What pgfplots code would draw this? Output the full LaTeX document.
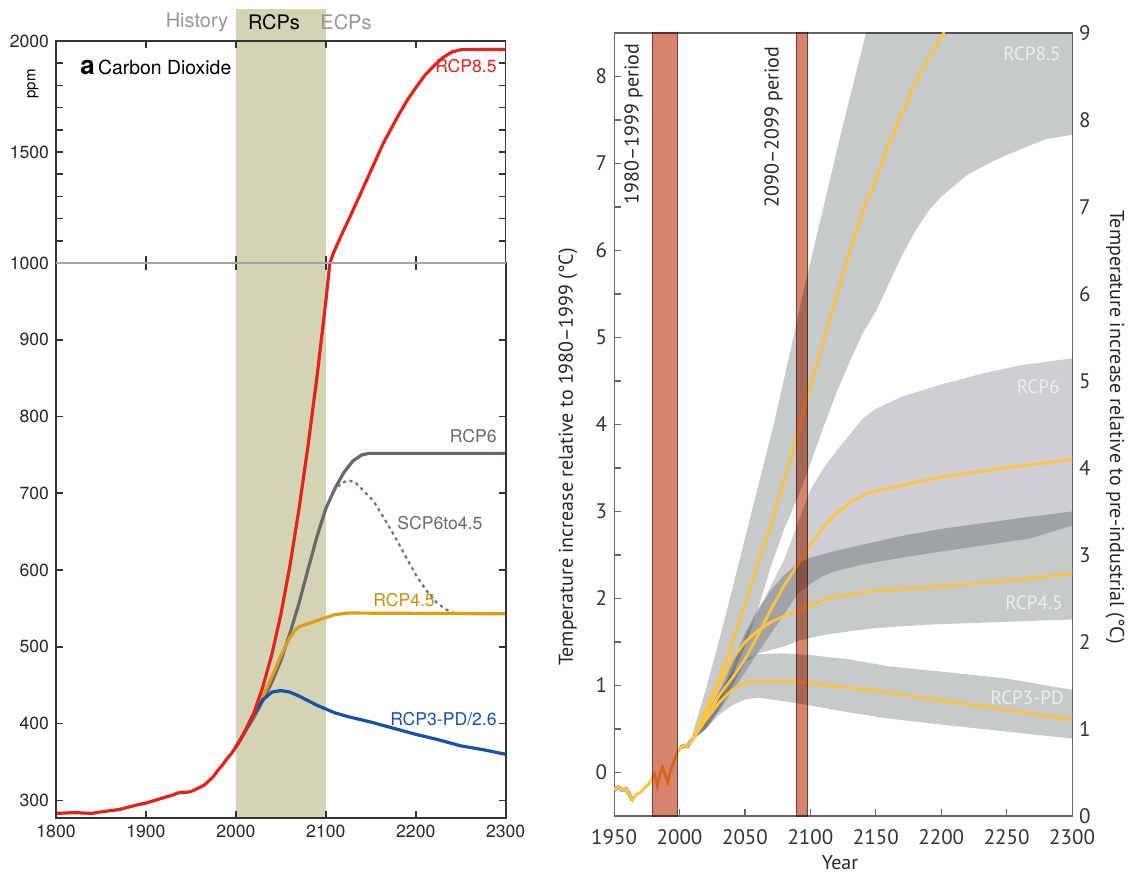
\documentclass[border=0pt]{standalone}
\usepackage{fontspec}
\usepackage{pgfplots}
\pgfplotsset{compat=1.18}
\usepgfplotslibrary{fillbetween}
\newfontfamily\lfont{TeX Gyre Heros}
\newfontfamily\rfont{PT Sans}
\definecolor{bandc}{RGB}{212,212,180}
\definecolor{co2red}{RGB}{226,35,30}
\definecolor{rcpsixgray}{RGB}{110,102,106}
\definecolor{rcpfourorange}{RGB}{222,158,20}
\definecolor{rcptwoblue}{RGB}{22,82,165}
\definecolor{hdrgray}{RGB}{150,150,150}
\definecolor{tband}{RGB}{198,202,202}
\definecolor{sixband}{RGB}{206,206,211}
\definecolor{tline}{RGB}{252,196,64}
\definecolor{barred}{RGB}{214,132,108}
\definecolor{lbltxt}{RGB}{238,240,240}
\begin{document}
\begin{tikzpicture}
% ---------------- LEFT PANEL: bottom part ----------------
\begin{axis}[
  at={(28pt,28.5pt)}, anchor=south west, scale only axis,
  width=224.85pt, height=277.5pt,
  xmin=1800, xmax=2300, ymin=277, ymax=1000,
  axis on top,
  xtick={1800,1900,...,2300}, ytick={300,400,...,900},
  tick align=inside, xtick pos=both, ytick pos=both,
  xticklabel pos=left, yticklabel pos=left,
  major tick length=3.5pt,
  axis line style={draw=black!80, line width=0.8pt},
  major tick style={draw=black!80, line width=0.8pt},
  tick label style={font=\lfont\fontsize{8.8}{10}\selectfont, text=black!85},
  /pgf/number format/assume math mode=true,
  /pgf/number format/1000 sep={},
]
\addplot[fill=bandc, draw=none] coordinates {(2000,200)(2100,200)(2100,1000)(2000,1000)} -- cycle;
% RCP6
\addplot[rcpsixgray, line width=1.6pt] coordinates {
(2000,369.5)(2010,389)(2020,408)(2030,430)(2040,454)(2050,482)(2060,517)(2070,556)(2080,600)(2090,643)(2100,680)(2110,706)(2120,727)(2130,742)(2140,750)(2148,752)(2300,752)};
% SCP6to4.5
\addplot[black!55, line width=1.1pt, dash pattern=on 1.6pt off 1.8pt] coordinates {
(2105,694)(2110,704)(2117,713)(2125,717)(2133,714)(2143,702)(2153,690)(2165,667)(2178,641)(2190,615)(2201,592)(2212,573)(2223,558)(2233,549)(2242,544)(2250,543)(2300,543)};
% RCP4.5
\addplot[rcpfourorange, line width=1.6pt] coordinates {
(2000,369.5)(2010,389)(2020,411)(2030,435)(2040,461)(2050,488)(2060,512)(2065,521)(2070,526)(2080,530)(2090,534)(2100,538)(2110,542)(2125,544)(2300,543)};
% RCP3-PD/2.6
\addplot[rcptwoblue, line width=1.6pt] coordinates {
(2000,369.5)(2010,389)(2020,412)(2030,431)(2040,441)(2050,443)(2060,441)(2070,436)(2080,430)(2090,424)(2100,419)(2110,414)(2125,409)(2150,402)(2175,394)(2200,386)(2225,379)(2250,371)(2275,366)(2300,360)};
% history + RCP8.5
\addplot[co2red, line width=1.6pt] coordinates {
(1800,283)(1810,283.5)(1820,284)(1830,283.5)(1840,283)(1850,285)(1860,286.5)(1870,288)(1880,291)(1890,294)(1900,296.5)(1910,300)(1920,303.5)(1930,307)(1935,309.5)(1940,310.5)(1945,310.5)(1950,311.5)(1955,314)(1960,317)(1965,320)(1970,325.5)(1975,331)(1980,339)(1985,346)(1990,354)(1995,361)(2000,369.5)(2005,379)(2010,390)(2020,414)(2030,448)(2040,490)(2050,542)(2060,605)(2070,678)(2080,760)(2090,850)(2100,950)(2104.5,1000)};
\end{axis}
% ---------------- LEFT PANEL: top part ----------------
\begin{axis}[
  at={(28pt,306pt)}, anchor=south west, scale only axis,
  width=224.85pt, height=111pt,
  xmin=1800, xmax=2300, ymin=1000, ymax=2000,
  axis on top, clip=false,
  xtick={1800,1900,...,2300}, xticklabels={},
  ytick={1000,1500,2000}, minor ytick={1100,1200,1300,1400,1600,1700,1800,1900},
  tick align=inside, xtick pos=both, ytick pos=both, yticklabel pos=left,
  major tick length=3.5pt, minor tick length=3.5pt,
  axis line style={draw=black!80, line width=0.8pt},
  major tick style={draw=black!80, line width=0.8pt},
  minor tick style={draw=black!80, line width=0.8pt},
  tick label style={font=\lfont\fontsize{8.8}{10}\selectfont, text=black!85},
  /pgf/number format/assume math mode=true,
  /pgf/number format/1000 sep={},
]
\addplot[fill=bandc, draw=none] coordinates {(2000,1000)(2100,1000)(2100,2144)(2000,2144)} -- cycle;
\addplot[co2red, line width=1.6pt] coordinates {
(2104.5,1000)(2108,1040)(2115,1105)(2127,1209)(2140,1325)(2150,1415)(2164,1540)(2180,1660)(2190,1730)(2201,1795)(2210,1845)(2220,1887)(2230,1925)(2240,1950)(2250,1961)(2300,1962)};
\end{axis}
\draw[black!35, line width=0.8pt] (28pt,306pt) -- (252.85pt,306pt);
% left panel texts
\node[text=hdrgray, font=\lfont\fontsize{10}{12}\selectfont] at (98.5pt,426.5pt) {History};
\node[text=black, font=\lfont\fontsize{10}{12}\selectfont] at (137pt,426.5pt) {RCPs};
\node[text=hdrgray, font=\lfont\fontsize{10}{12}\selectfont] at (173pt,426.5pt) {ECPs};
\node[anchor=base west, inner sep=0pt, font=\lfont\fontsize{9.7}{11}\selectfont] at (40pt,400pt) {{\bfseries\fontsize{13}{14}\selectfont a}\,Carbon Dioxide};
\node[rotate=90, font=\lfont\fontsize{7.5}{9}\selectfont] at (16.5pt,395.5pt) {ppm};
\node[anchor=east, inner sep=0pt, text=co2red, font=\lfont\fontsize{8.8}{10}\selectfont] at (248.5pt,404.5pt) {RCP8.5};
\node[anchor=east, inner sep=0pt, text=rcpsixgray, font=\lfont\fontsize{8.8}{10}\selectfont] at (248.5pt,219.5pt) {RCP6};
\node[anchor=west, inner sep=0pt, text=rcpsixgray, font=\lfont\fontsize{8.8}{10}\selectfont] at (198.5pt,176pt) {SCP6to4.5};
\node[anchor=west, inner sep=0pt, text=rcpfourorange!90!black, font=\lfont\fontsize{8.8}{10}\selectfont] at (186.5pt,137.5pt) {RCP4.5};
\node[anchor=east, inner sep=0pt, text=rcptwoblue, font=\lfont\fontsize{8.8}{10}\selectfont] at (248.5pt,78pt) {RCP3-PD/2.6};
% ---------------- RIGHT PANEL ----------------
\begin{axis}[
  at={(307.05pt,29.5pt)}, anchor=south west, scale only axis,
  width=229pt, height=391.5pt,
  xmin=1950, xmax=2300, ymin=-0.5, ymax=8.5,
  xtick={1950,2000,...,2300}, ytick={0,1,...,8},
  minor ytick={0.5,1.5,...,7.5},
  tick align=inside, xtick pos=left, ytick pos=left,
  major tick length=3.5pt, minor tick length=3.5pt,
  axis line style={draw=black!60, line width=0.6pt},
  major tick style={draw=black!60, line width=0.6pt},
  minor tick style={draw=black!60, line width=0.6pt},
  tick label style={font=\rfont\fontsize{10.5}{12}\selectfont, text=black!80},
  xticklabel style={yshift=-3pt},
  /pgf/number format/assume math mode=true,
  /pgf/number format/1000 sep={},
]
% RCP8.5 band
\addplot[name path=uA, draw=none] coordinates {(2008,0.35)(2020,0.95)(2030,1.5)(2041,2.15)(2056,3.05)(2072,4.0)(2084,4.8)(2095,5.55)(2110,6.5)(2125,7.45)(2142,8.47)(2150,8.9)(2160,9.5)(2300,9.5)};
\addplot[name path=lA, draw=none] coordinates {(2008,0.35)(2020,0.55)(2030,0.8)(2040,1.1)(2050,1.45)(2060,1.88)(2070,2.38)(2080,2.8)(2090,3.15)(2100,3.55)(2110,3.97)(2120,4.37)(2130,4.72)(2140,5.05)(2150,5.3)(2160,5.62)(2170,5.94)(2180,6.22)(2190,6.45)(2200,6.62)(2220,6.87)(2240,7.03)(2260,7.16)(2280,7.28)(2300,7.33)};
\addplot[fill=tband, draw=none, blend mode=multiply] fill between[of=uA and lA];
% RCP6 band
\addplot[name path=uB, draw=none] coordinates {(2008,0.35)(2020,0.58)(2030,0.84)(2040,1.2)(2050,1.55)(2060,1.85)(2070,2.15)(2080,2.45)(2090,2.85)(2100,3.25)(2110,3.5)(2120,3.7)(2130,3.88)(2140,4.07)(2150,4.18)(2170,4.32)(2200,4.46)(2230,4.58)(2260,4.68)(2300,4.76)};
\addplot[name path=lB, draw=none] coordinates {(2008,0.35)(2020,0.5)(2030,0.7)(2040,0.93)(2050,1.15)(2060,1.38)(2070,1.6)(2080,1.82)(2090,2.05)(2100,2.17)(2110,2.26)(2120,2.32)(2143,2.40)(2170,2.47)(2200,2.54)(2268,2.69)(2300,2.84)};
\addplot[fill=sixband, draw=none, blend mode=multiply] fill between[of=uB and lB];
% RCP4.5 band
\addplot[name path=uC, draw=none] coordinates {(2008,0.35)(2020,0.62)(2030,0.92)(2040,1.25)(2050,1.6)(2060,1.88)(2070,2.1)(2080,2.27)(2090,2.4)(2100,2.47)(2120,2.55)(2143,2.63)(2170,2.72)(2200,2.8)(2268,2.94)(2300,3.0)};
\addplot[name path=lC, draw=none] coordinates {(2008,0.35)(2020,0.5)(2030,0.72)(2040,0.98)(2050,1.27)(2060,1.37)(2070,1.41)(2080,1.45)(2092,1.52)(2110,1.58)(2133,1.63)(2150,1.66)(2190,1.70)(2246,1.73)(2300,1.76)};
\addplot[fill=tband, draw=none, blend mode=multiply] fill between[of=uC and lC];
% RCP3-PD band
\addplot[name path=uD, draw=none] coordinates {(2008,0.35)(2020,0.66)(2030,0.92)(2040,1.13)(2050,1.3)(2060,1.36)(2080,1.37)(2100,1.35)(2130,1.3)(2160,1.22)(2200,1.16)(2250,1.08)(2300,0.95)};
\addplot[name path=lD, draw=none] coordinates {(2008,0.35)(2020,0.5)(2030,0.66)(2040,0.77)(2050,0.84)(2060,0.86)(2080,0.82)(2100,0.77)(2130,0.69)(2160,0.62)(2200,0.55)(2250,0.47)(2300,0.39)};
\addplot[fill=tband, draw=none, blend mode=multiply] fill between[of=uD and lD];
% historical: thin grey outline where the reference shows one
\addplot[black!40, line width=2.0pt] coordinates {(1950,-0.20)(1953,-0.17)(1956,-0.20)(1959,-0.19)(1962,-0.26)(1964,-0.32)};
\addplot[black!40, line width=2.0pt] coordinates {(2001,0.29)(2004,0.31)(2006,0.30)(2008,0.35)(2010,0.38)};
\addplot[tline, line width=1.4pt] coordinates {(1950,-0.20)(1953,-0.17)(1956,-0.20)(1959,-0.19)(1962,-0.26)(1964,-0.32)(1967,-0.25)(1970,-0.23)(1973,-0.18)(1976,-0.14)(1979,-0.07)(1981,-0.02)(1983,-0.15)(1985,-0.02)(1987,0.06)(1989,-0.03)(1991,-0.11)(1993,0.02)(1995,0.10)(1998,0.22)(2001,0.29)(2004,0.31)(2006,0.30)(2008,0.35)(2010,0.38)};
% means
\addplot[tline, line width=1.4pt] coordinates {(2010,0.38)(2020,0.6)(2030,0.8)(2040,0.95)(2050,1.03)(2060,1.05)(2080,1.05)(2100,1.03)(2120,0.99)(2150,0.94)(2200,0.83)(2250,0.72)(2300,0.61)};
\addplot[tline, line width=1.4pt] coordinates {(2010,0.38)(2020,0.68)(2030,1.0)(2040,1.3)(2050,1.5)(2060,1.63)(2070,1.73)(2080,1.8)(2090,1.86)(2100,1.92)(2110,1.98)(2120,2.02)(2133,2.05)(2150,2.09)(2190,2.13)(2257,2.21)(2300,2.29)};
\addplot[tline, line width=1.4pt] coordinates {(2010,0.38)(2020,0.62)(2030,0.88)(2040,1.08)(2050,1.3)(2060,1.58)(2070,1.88)(2080,2.15)(2090,2.38)(2100,2.62)(2110,2.82)(2120,2.98)(2130,3.1)(2143,3.21)(2170,3.3)(2200,3.4)(2250,3.5)(2300,3.6)};
\addplot[tline, line width=1.4pt] coordinates {(2010,0.38)(2020,0.72)(2030,1.06)(2040,1.48)(2050,1.93)(2060,2.42)(2070,2.86)(2080,3.35)(2090,3.88)(2100,4.45)(2110,4.95)(2120,5.48)(2130,5.98)(2140,6.45)(2150,6.82)(2160,7.22)(2170,7.58)(2180,7.92)(2190,8.20)(2200,8.45)(2210,8.75)};
% period bars
\addplot[fill=barred, draw=black!50, line width=0.5pt, blend mode=multiply] coordinates {(1979.2,-1)(1998.5,-1)(1998.5,10)(1979.2,10)} -- cycle;
\addplot[fill=barred, draw=black!50, line width=0.5pt, blend mode=multiply] coordinates {(2089.2,-1)(2098,-1)(2098,10)(2089.2,10)} -- cycle;
\end{axis}
% right-hand axis
\begin{axis}[
  at={(307.05pt,29.5pt)}, anchor=south west, scale only axis,
  width=229pt, height=391.5pt,
  xmin=1950, xmax=2300, ymin=0, ymax=9,
  axis x line=none, axis y line*=right,
  y axis line style={draw=none},
  ytick={0,1,...,9}, major tick length=0pt,
  tick label style={font=\rfont\fontsize{10.5}{12}\selectfont, text=black!80},
  /pgf/number format/assume math mode=true,
]
\addplot[draw=none] coordinates {(2000,1)};
\end{axis}
% right panel texts
\begin{scope}[font=\rfont\fontsize{9.6}{11}\selectfont]
\node[anchor=east, inner sep=0pt, text=lbltxt] at (530.5pt,410.5pt) {RCP8.5};
\node[anchor=east, inner sep=0pt, text=lbltxt] at (530pt,244pt) {RCP6};
\node[anchor=east, inner sep=0pt, text=lbltxt] at (531.5pt,136pt) {RCP4.5};
\node[anchor=east, inner sep=0pt, text=lbltxt] at (532pt,88.5pt) {RCP3-PD};
\end{scope}
\begin{scope}[font=\rfont\fontsize{10}{12}\selectfont, text=black!85]
\node[rotate=90] at (316.8pt,375.5pt) {1980–1999 period};
\node[rotate=90] at (386.7pt,374pt) {2090–2099 period};
\node[rotate=90] at (284pt,209pt) {Temperature increase relative to 1980–1999 (°C)};
\node[rotate=-90] at (557.5pt,224pt) {Temperature increase relative to pre-industrial (°C)};
\node[inner sep=0pt] at (420pt,6pt) {Year};
\end{scope}
\pgfresetboundingbox
\useasboundingbox (0,0) rectangle (567pt,437.5pt);
\end{tikzpicture}
\end{document}
